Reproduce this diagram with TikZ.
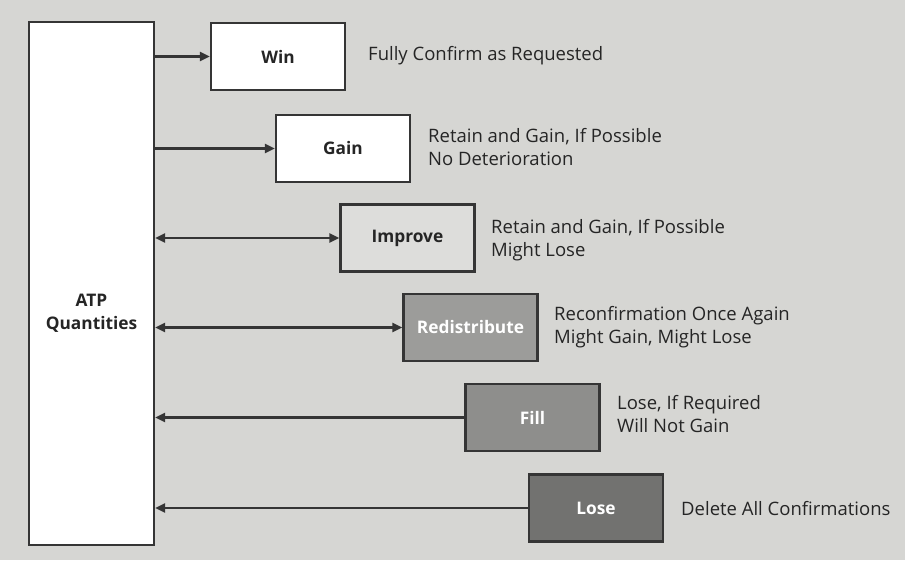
\documentclass[tikz,border=0pt]{standalone}
\usepackage{fontspec}
\setmainfont{Open Sans}
\usetikzlibrary{arrows.meta}
\definecolor{paper}{HTML}{D6D6D3}
\definecolor{ink}{HTML}{353535}
\definecolor{txt}{HTML}{252525}
\definecolor{shadeA}{HTML}{DDDDDB}
\definecolor{shadeB}{HTML}{9C9C9A}
\definecolor{shadeC}{HTML}{8E8E8C}
\definecolor{shadeD}{HTML}{727270}
\tikzset{
  stage/.style={draw=ink, line width=2.2pt, minimum width=134pt, minimum height=67pt,
    inner sep=0pt, font=\fontsize{17.3}{20}\selectfont\bfseries, text=txt},
  note/.style={anchor=west, align=left, inner sep=0pt, text=txt,
    font=\fontsize{18.5}{23}\selectfont},
  link/.style={draw=ink, line width=2.2pt, arrows={-Triangle[length=10pt,width=9pt]}},
  both/.style={link, arrows={Triangle[length=10pt,width=9pt]-Triangle[length=10pt,width=9pt]}},
  back/.style={link, arrows={Triangle[length=10pt,width=9pt]-}},
}
\begin{document}
\begin{tikzpicture}[x=1pt, y=-1pt]
  \fill[paper] (0,0) rectangle (905,560);
  \useasboundingbox (0,0) rectangle (905,560);

  % quantities column
  \node[draw=ink, line width=2.2pt, fill=white, minimum width=125pt, minimum height=523pt,
        inner sep=0pt] (atp) at (91.5,283.5) {};
  \node[align=center, text=txt, font=\fontsize{17.3}{23}\selectfont\bfseries] (atplbl)
        at (91.5,313) {ATP\\Quantities};

  % stages
  \node[stage, fill=white]  (win)  at (278,56.5)  {Win};
  \node[stage, fill=white]  (gain) at (343,148.5) {Gain};
  \node[stage, fill=shadeA] (impr) at (407.5,238) {Improve};
  \node[stage, fill=shadeB, text=white] (redi) at (470.5,327.5) {Redistribute};
  \node[stage, fill=shadeC, text=white] (fill) at (532.5,417.5) {Fill};
  \node[stage, fill=shadeD, text=white] (lose) at (596,508) {Lose};

  % descriptions
  \node[note] (nwin)  at (368,56)  {Fully Confirm as Requested};
  \node[note] (ngain) at (428,147) {Retain and Gain, If Possible\\No Deterioration};
  \node[note] (nimpr) at (491,240) {Retain and Gain, If Possible\\Might Lose};
  \node[note] (nredi) at (554,327) {Reconfirmation Once Again\\Might Gain, Might Lose};
  \node[note] (nfill) at (617,414) {Lose, If Required\\Will Not Gain};
  \node[note] (nlose) at (681,509) {Delete All Confirmations};

  % connectors
  \draw[link] (win.west -| atp.east)  -- (win.west);
  \draw[link] (gain.west -| atp.east) -- (gain.west);
  \draw[both] (impr.west -| atp.east) -- (impr.west);
  \draw[both] (redi.west -| atp.east) -- (redi.west);
  \draw[back] (fill.west -| atp.east) -- (fill.west);
  \draw[back] (lose.west -| atp.east) -- (lose.west);
\end{tikzpicture}
\end{document}
